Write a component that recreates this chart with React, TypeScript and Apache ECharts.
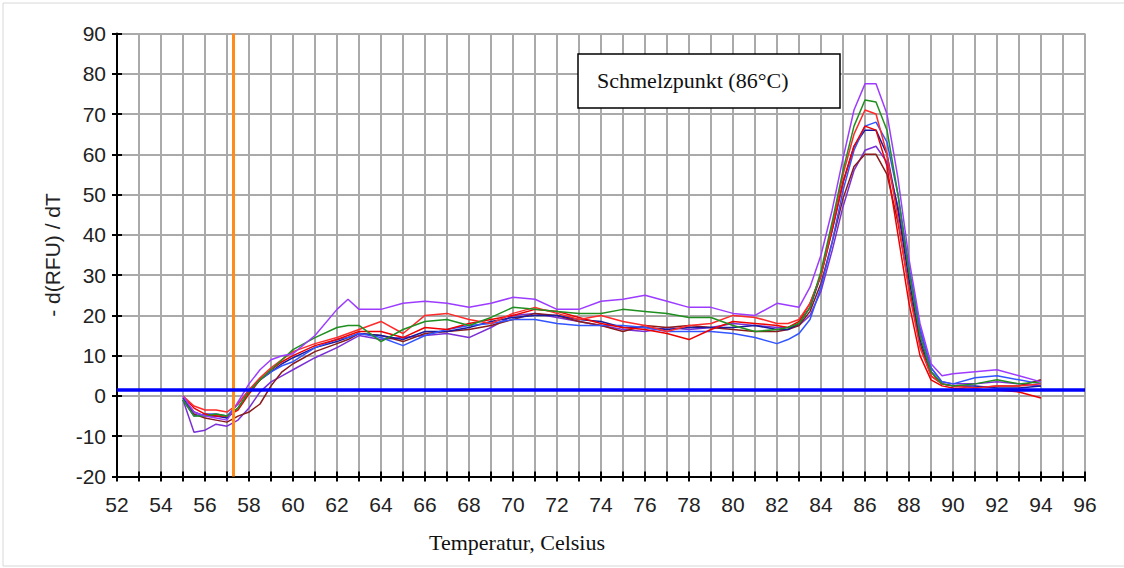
import React, { useEffect, useRef } from "react";
import * as echarts from "echarts";

// Temperature sample points (°C)
const temps = [
  55, 55.5, 56, 56.5, 57, 57.5, 58, 58.5, 59, 59.5, 60, 61, 62, 62.5, 63, 64, 65, 66, 67, 68,
  69, 70, 71, 72, 73, 74, 75, 76, 77, 78, 79, 80, 81, 82, 82.5, 83, 83.5, 84, 84.5, 85, 85.5,
  86, 86.5, 87, 87.5, 88, 88.5, 89, 89.5, 90, 91, 92, 93, 94,
];

const purpleA = [
  0, -4, -5, -5.5, -6, -1.5, 3, 6.5, 9, 10, 10.5, 15, 21.5, 24, 21.5, 21.5, 23, 23.5, 23, 22,
  23, 24.5, 24, 21.5, 21.5, 23.5, 24, 25, 23.5, 22, 22, 20.5, 20, 23, 22.5, 22, 27, 35, 46, 59, 71,
  77.5, 77.5, 70, 54, 34, 18, 8, 5, 5.5, 6, 6.5, 5, 3.5,
];
const purpleB = [
  -1, -9, -8.5, -7, -7.5, -6, -3, 1, 3.5, 5, 6.5, 9.5, 12, 13.5, 15, 14, 14.5, 15, 15.5, 14.5,
  17, 20, 20.5, 19.5, 18.5, 17.5, 16.5, 16, 17, 16.5, 17, 18, 17.5, 17, 17, 17.5, 20, 26, 36, 47, 56,
  61, 62, 58, 47, 31, 16, 7, 3.5, 3, 3, 3.5, 3, 2.5,
];
const green = [
  -1, -5, -5, -4.5, -5, -3, 1, 4, 6.5, 9, 11.5, 14.5, 17, 17.5, 17.5, 13.5, 16.5, 18.5, 19, 17.5,
  19.5, 22, 21.5, 21, 20.5, 20.5, 21.5, 21, 20.5, 19.5, 19.5, 17.5, 16, 16.5, 17, 18, 22, 31, 43, 56, 67,
  73.5, 73, 66, 50, 31, 15, 6, 3, 2.5, 3, 4, 3, 3.5,
];
const redA = [
  0, -2.5, -3.5, -3.5, -4, -2, 1.5, 4.5, 7, 9, 11, 13, 14.5, 15.5, 16.5, 18.5, 15.5, 20, 20.5, 19,
  18, 20.5, 22, 20.5, 19, 20, 18.5, 17.5, 16, 17.5, 18, 20, 19.5, 18, 18, 19, 23, 30, 42, 55, 65,
  71, 70, 60, 44, 26, 12, 5, 3, 2.5, 2, 2.5, 2.5, 3,
];
const redB = [
  0, -3, -4.5, -5, -5, -3.5, 0.5, 4, 6.5, 8.5, 10, 12.5, 14, 15, 16, 16, 14.5, 17, 16.5, 18,
  19, 20, 21.5, 21, 19.5, 18, 17, 16.5, 15.5, 14, 16.5, 18.5, 18, 17.5, 17, 18.5, 23, 30, 41, 53, 62,
  67, 66, 57, 40, 23, 10, 4, 2.5, 2, 1.5, 1.5, 1, -0.5,
];
const blueA = [
  -1, -5, -4.5, -4.5, -5, -2, 1.5, 4, 6, 7.5, 8.5, 12, 14, 14.5, 15.5, 14.5, 12.5, 15, 16.5, 17.5,
  18, 19, 19, 18, 17.5, 17.5, 17.5, 17, 16, 16, 16, 15.5, 14.5, 13, 14, 15.5, 19, 27, 38, 51, 61,
  67, 68, 63, 50, 32, 17, 7, 3.5, 3, 4.5, 5, 4, 3,
];
const navy = [
  -0.5, -4, -5, -5, -5.5, -3, 1, 4, 6, 8, 9.5, 12, 13.5, 14.5, 15.5, 15, 14, 16, 16, 17,
  18.5, 19.5, 20, 20, 19, 18.5, 17, 17, 16.5, 17, 17, 17, 17.5, 16.5, 16.5, 18, 22, 30, 41, 53, 62,
  66, 66, 60, 46, 29, 14, 6, 3, 2.5, 2.5, 2, 2, 2.5,
];
const darkRed = [
  -1, -4.5, -5.5, -6, -6.5, -5, -4, -2, 2.5, 6, 8, 11, 13, 14, 15.5, 15, 13.5, 15.5, 16, 16.5,
  17.5, 19, 20.5, 20, 18.5, 17.5, 16, 17.5, 17, 17.5, 17, 16.5, 16, 16, 16.5, 17.5, 21, 28, 38, 49, 57,
  60, 60, 55, 43, 27, 13, 5, 3, 2.5, 2, 2.5, 2.5, 4,
];

const curves = [
  { name: "Probe 1", values: purpleB, color: "#7b2fd6" },
  { name: "Probe 2", values: darkRed, color: "#8b1a1a" },
  { name: "Probe 3", values: navy, color: "#1a1aa0" },
  { name: "Probe 4", values: blueA, color: "#3355ff" },
  { name: "Probe 5", values: redB, color: "#ee0000" },
  { name: "Probe 6", values: redA, color: "#ff2a2a" },
  { name: "Probe 7", values: green, color: "#1f8f1f" },
  { name: "Probe 8", values: purpleA, color: "#9d3cff" },
];

const xTickLabels = [52, 54, 56, 58, 60, 62, 64, 66, 68, 70, 72, 74, 76, 78, 80, 82, 84, 86, 88, 90, 92, 94, 96];
const yTickValues = [-20, -10, 0, 10, 20, 30, 40, 50, 60, 70, 80, 90];
const thresholdLine = 1.5;
const markerTemp = 57.3;
const meltLabel = "Schmelzpunkt (86°C)";
const xTitle = "Temperatur, Celsius";
const yTitle = "- d(RFU) / dT";

export default function App() {
  const ref = useRef<HTMLDivElement>(null);

  useEffect(() => {
    if (!ref.current) return;
    const chart = echarts.init(ref.current, null, { renderer: "svg" });
    const sans = "Liberation Sans";
    const serif = "Liberation Serif";
    const xMin = xTickLabels[0];
    const xMax = xTickLabels[xTickLabels.length - 1];
    const yMin = yTickValues[0];
    const yMax = yTickValues[yTickValues.length - 1];

    const series: any[] = curves.map((c) => ({
      type: "line",
      name: c.name,
      data: temps.map((t, i) => [t, c.values[i]]),
      showSymbol: false,
      symbol: "none",
      lineStyle: { color: c.color, width: 1.5 },
      itemStyle: { color: c.color },
      z: 3,
    }));
    series.push({
      type: "line",
      name: "marks",
      data: [],
      z: 5,
      markLine: {
        silent: true,
        symbol: "none",
        label: { show: false },
        animation: false,
        data: [
          { xAxis: markerTemp, lineStyle: { color: "#ff8c1a", width: 3, type: "solid" } },
          { yAxis: thresholdLine, lineStyle: { color: "#0000ff", width: 3.5, type: "solid" } },
        ],
      },
    });

    chart.setOption({
      animation: false,
      backgroundColor: "#ffffff",
      grid: { left: 117, right: 39, top: 33.5, bottom: 91.5, containLabel: false },
      xAxis: [
        {
          type: "value",
          min: xMin,
          max: xMax,
          interval: 1,
          axisLine: { onZero: false, lineStyle: { color: "#000", width: 2 } },
          axisTick: { show: true, length: 5, lineStyle: { color: "#000", width: 2 } },
          axisLabel: {
            color: "#222",
            fontFamily: sans,
            fontSize: 21,
            margin: 17,
            formatter: (v: number) => (xTickLabels.includes(v) ? String(v) : ""),
          },
          splitLine: { show: true, lineStyle: { color: "#aaaaaa", width: 2 } },
        },
        {
          type: "value",
          position: "bottom",
          offset: 0,
          min: xMin,
          max: xMax,
          interval: 1,
          axisLine: { show: false, onZero: false },
          axisTick: { show: true, inside: true, length: 5, lineStyle: { color: "#000", width: 2 } },
          axisLabel: { show: false },
          splitLine: { show: false },
        },
      ],
      yAxis: [
        {
          type: "value",
          min: yMin,
          max: yMax,
          interval: 10,
          axisLine: { show: true, onZero: false, lineStyle: { color: "#000", width: 2 } },
          axisTick: { show: true, length: 5, lineStyle: { color: "#000", width: 2 } },
          axisLabel: { color: "#222", fontFamily: sans, fontSize: 21, margin: 11 },
          splitLine: { show: true, lineStyle: { color: "#aaaaaa", width: 2 } },
        },
        {
          type: "value",
          position: "left",
          offset: 0,
          min: yMin,
          max: yMax,
          interval: 10,
          axisLine: { show: false, onZero: false },
          axisTick: { show: true, inside: true, length: 5, lineStyle: { color: "#000", width: 2 } },
          axisLabel: { show: false },
          splitLine: { show: false },
        },
      ],
      series,
      graphic: [
        {
          type: "rect",
          silent: true,
          z: -10,
          shape: { x: 3, y: 3, width: 1140, height: 563 },
          style: { fill: "none", stroke: "#d8d8d8", lineWidth: 1 },
        },
        {
          type: "rect",
          z: 10,
          shape: { x: 578, y: 54, width: 262, height: 54 },
          style: { fill: "#ffffff", stroke: "#000000", lineWidth: 1.5 },
        },
        {
          type: "text",
          z: 11,
          x: 597,
          y: 80,
          style: {
            text: meltLabel,
            fontFamily: serif,
            fontSize: 22,
            fill: "#111",
            textAlign: "left",
            textVerticalAlign: "middle",
          },
        },
        {
          type: "text",
          z: 11,
          x: 517,
          y: 542,
          style: {
            text: xTitle,
            fontFamily: serif,
            fontSize: 22,
            fill: "#111",
            textAlign: "center",
            textVerticalAlign: "middle",
          },
        },
        {
          type: "text",
          z: 11,
          x: 52,
          y: 255,
          rotation: Math.PI / 2,
          style: {
            text: yTitle,
            fontFamily: sans,
            fontSize: 21,
            fill: "#222",
            textAlign: "center",
            textVerticalAlign: "middle",
          },
        },
      ],
    });
    return () => chart.dispose();
  }, []);

  return (
    <div
      ref={ref}
      style={{ position: "absolute", left: 0, top: 0, width: 1124, height: 568, background: "#fff" }}
    />
  );
}
